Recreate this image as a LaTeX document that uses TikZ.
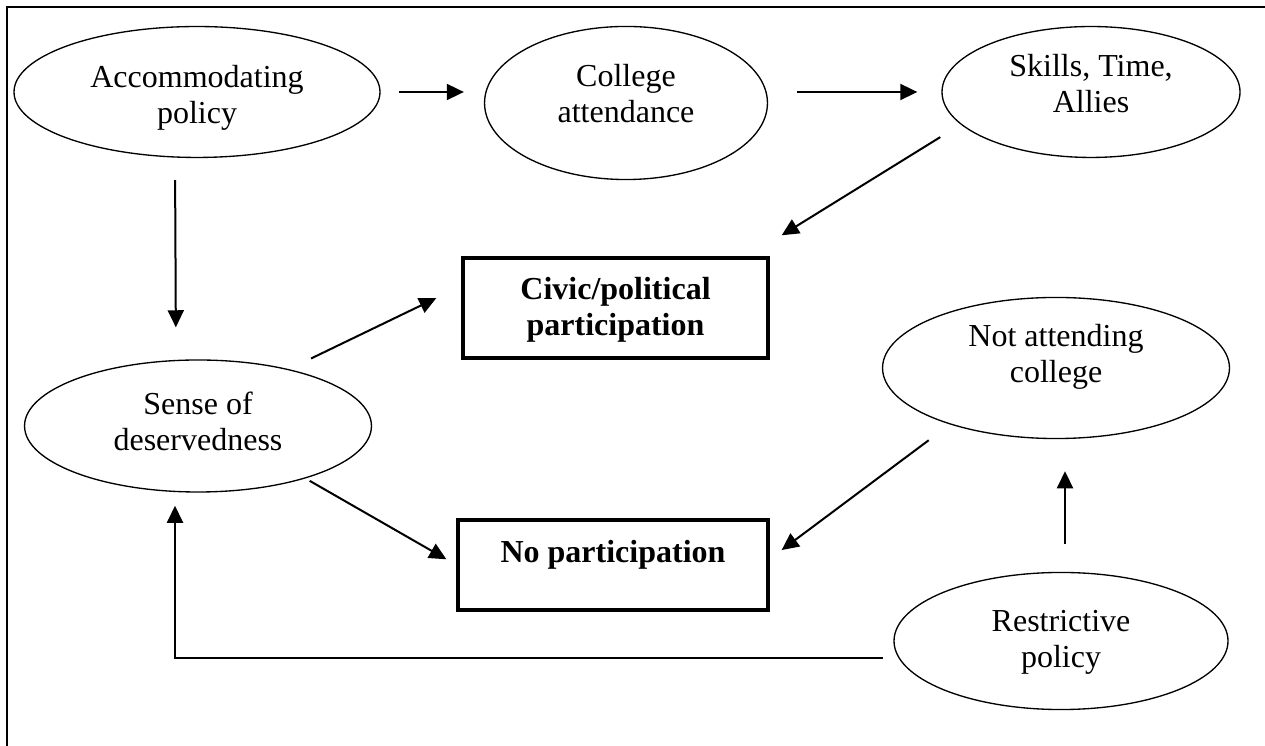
\documentclass[tikz,border=0pt]{standalone}
\usepackage{fontspec}
\setmainfont{Liberation Serif}
\usetikzlibrary{arrows.meta,shapes.geometric}
\tikzset{
  oval/.style={ellipse, draw, line width=0.5pt, inner sep=0pt, align=center,
    font=\fontsize{12}{13.5}\selectfont, text height=22.5pt},
  outcome/.style={rectangle, draw, line width=1.25pt, inner sep=0pt, align=center,
    font=\fontsize{12}{13.5}\selectfont\bfseries},
  arr/.style={-{Triangle[length=6.4pt,width=6pt]}, line width=0.75pt},
}
\begin{document}
\begin{tikzpicture}[x=0.375pt, y=-0.375pt]
\useasboundingbox (0,0) rectangle (1265,746);
\draw[line width=0.75pt] (7,746) -- (7,7) -- (1265,7);

\node[oval, minimum width=137.25pt, minimum height=49.1pt, text height=27pt, text depth=3pt] (acc) at (197,92) {Accommodating\\policy};
\node[oval, minimum width=106.1pt, minimum height=57.4pt, text depth=7.5pt] (col) at (626,103) {College\\attendance};
\node[oval, minimum width=111.75pt, minimum height=49.1pt, text depth=6.75pt] (skl) at (1091,92) {Skills, Time,\\Allies};
\node[oval, minimum width=130.1pt, minimum height=49.5pt, text depth=3.75pt] (sense) at (198,426) {Sense of\\deservedness};
\node[oval, minimum width=130.1pt, minimum height=52.9pt, text depth=11.25pt] (not) at (1056,368) {Not attending\\college};
\node[oval, minimum width=125.25pt, minimum height=51.4pt, text depth=2.25pt] (res) at (1061,641) {Restrictive\\policy};
\node[outcome, minimum width=114.4pt, minimum height=37.5pt, text height=22.5pt, text depth=1.5pt] (civ) at (615.5,308) {Civic/political\\participation};
\node[outcome, minimum width=116.25pt, minimum height=33.75pt, text height=9pt, text depth=10.5pt] (no) at (613,565) {No participation};

\draw[arr, shorten <=6.75pt, shorten >=7.5pt] (acc.east) -- (acc.east -| col.west);
\draw[arr, shorten <=10.9pt, shorten >=9pt] (skl.west -| col.east) -- (skl.west);
\draw[arr, shorten <=9pt, shorten >=15pt] (skl.194.6) -- ([shift={(-22,0)}]civ.north east);
\draw[arr, shorten <=8.25pt, shorten >=12pt] ([shift={(-22,0)}]acc.south) -- ([shift={(-22,0)}]sense.north);
\draw[arr, shorten <=9.2pt, shorten >=10.4pt] (sense.32.2) -- ([shift={(0,-22)}]civ.west);
\draw[arr, shorten <=1.8pt, shorten >=4.3pt] (sense.334.4) -- (no.west);
\draw[arr, shorten <=9.9pt, shorten >=5.6pt] (not.208.6) -- ([shift={(0,-6)}]no.east);
\draw[arr, shorten <=10.5pt, shorten >=12pt] ([shift={(4,0)}]res.north) -- ([shift={(4,0)}]res.north |- not.south);
\draw[arr, shorten <=4pt, shorten >=4.9pt] ([shift={(0,17)}]res.west) -| ([shift={(-23,0)}]sense.south);
\end{tikzpicture}
\end{document}
